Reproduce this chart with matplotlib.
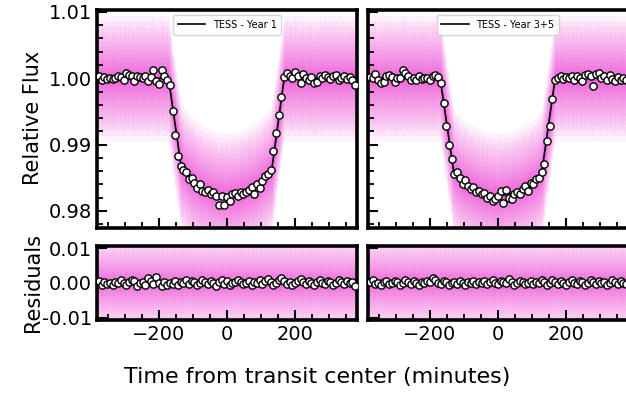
import numpy as np
import matplotlib
matplotlib.use("Agg")
import matplotlib.pyplot as plt
from matplotlib.ticker import MultipleLocator, FormatStrFormatter

# bin centres (minutes from mid-transit)
bin_time = np.arange(-376, 377, 8)

# binned flux, TESS Year 1
flux_y1 = [
    1.0003, 0.9998, 1.0002, 0.9999, 1.0001, 0.9999, 1.0000, 1.0004, 1.0002, 0.9998,
    1.0008, 1.0005, 1.0003, 0.9996, 1.0004, 1.0002, 1.0000, 1.0003, 0.9996, 1.0002,
    1.0012, 0.9996, 0.9992, 1.0012, 1.0003, 0.9997, 0.9990, 0.9950, 0.9915, 0.9882,
    0.9868, 0.9862, 0.9858, 0.9848, 0.9850, 0.9842, 0.9835, 0.9840, 0.9830, 0.9828,
    0.9832, 0.9826, 0.9829, 0.9822, 0.9808, 0.9822, 0.9808, 0.9821, 0.9815, 0.9826,
    0.9827, 0.9823, 0.9828, 0.9825, 0.9829, 0.9832, 0.9836, 0.9826, 0.9840, 0.9835,
    0.9845, 0.9852, 0.9855, 0.9862, 0.9890, 0.9918, 0.9945, 0.9972, 1.0002, 1.0008,
    1.0004, 1.0001, 1.0010, 1.0003, 0.9993, 1.0006, 1.0000, 0.9998, 1.0002, 0.9993,
    0.9994, 1.0003, 1.0001, 1.0005, 1.0002, 0.9999, 1.0004, 1.0005, 0.9998, 1.0001,
    1.0003, 0.9999, 1.0002, 0.9997, 0.9990,
]

# binned flux, TESS Year 3+5
flux_y35 = [
    1.0002, 1.0000, 1.0006, 0.9998, 0.9993, 0.9995, 1.0003, 1.0005, 1.0002, 0.9995,
    1.0001, 1.0000, 1.0013, 1.0008, 1.0003, 0.9998, 1.0001, 0.9997, 1.0004, 0.9999,
    1.0001, 1.0000, 0.9997, 1.0004, 1.0005, 1.0002, 0.9993, 0.9962, 0.9928, 0.9900,
    0.9878, 0.9855, 0.9858, 0.9850, 0.9841, 0.9846, 0.9838, 0.9833, 0.9836, 0.9828,
    0.9830, 0.9825, 0.9827, 0.9820, 0.9822, 0.9815, 0.9818, 0.9822, 0.9830, 0.9812,
    0.9831, 0.9820, 0.9818, 0.9825, 0.9828, 0.9826, 0.9833, 0.9838, 0.9830, 0.9842,
    0.9840, 0.9848, 0.9850, 0.9858, 0.9870, 0.9905, 0.9928, 0.9968, 0.9998, 1.0001,
    1.0003, 0.9999, 1.0002, 1.0000, 1.0004, 0.9998, 1.0003, 1.0001, 0.9996, 1.0005,
    1.0007, 1.0003, 0.9988, 1.0006, 1.0008, 1.0001, 1.0004, 0.9997, 1.0005, 0.9999,
    0.9996, 1.0002, 0.9998, 1.0000, 0.9997,
]

# residuals in units of 1e-4
resid_y1 = [
    5, -5, 3, -3, 0, -5, 3, 0, 8, 0,
    -5, 3, 10, 5, -8, 0, 3, -5, 14, 5,
    -3, 16, 0, -8, 3, -5, 0, -3, 5, -5,
    3, 0, 8, -3, 5, 3, -5, 0, 10, 3,
    -3, 5, 0, -8, 3, 8, -3, 5, -5, 0,
    3, 10, 3, -3, 0, 5, -5, 3, 0, 8,
    -3, 5, 12, 3, -5, 0, 8, 15, 5, -3,
    3, -5, 0, 5, 12, 3, -3, 5, 0, -5,
    3, 8, 0, -3, 5, 3, -5, 0, 8, 3,
    -3, 5, 0, 3, -10,
]
resid_y35 = [
    3, 8, -3, 0, -5, 3, 5, -3, 0, 5,
    3, -5, 0, 8, 3, -3, 5, 0, -5, 3,
    0, 5, 3, 14, 8, 0, -3, 5, 3, -5,
    0, 3, -3, 5, 0, -5, 3, 0, 5, -3,
    3, 0, 5, -3, 3, 8, 0, -3, 5, 3,
    0, 12, 3, -5, 0, 5, 3, -3, 0, 5,
    -3, 3, 0, 8, 3, -5, 0, 10, 3, -3,
    5, 0, -5, 3, 8, 0, -3, 5, 3, -5,
    0, 10, 3, -3, 5, 0, 3, -5, 0, 8,
    3, -3, 5, 0, -3,
]

# transit model
model_t_y1 = [-400, -172, -135, -115, -80, -40, 0, 40, 80, 115, 132, 168, 400]
model_f_y1 = [1.0, 1.0, 0.9868, 0.9852, 0.9836, 0.9826, 0.9822, 0.9826, 0.9836, 0.9852, 0.9864, 1.0, 1.0]
model_t_y35 = [-400, -170, -130, -110, -80, -40, 0, 40, 80, 110, 128, 168, 400]
model_f_y35 = [1.0, 1.0, 0.9858, 0.9845, 0.9835, 0.9826, 0.9822, 0.9826, 0.9835, 0.9845, 0.9856, 1.0, 1.0]

labels = ["TESS - Year 1", "TESS - Year 3+5"]

cloud_color = "#ec10cc"
# half-widths of the stacked shading that mimics the raw-data cloud
cloud_top = 0.0095 * np.linspace(0.08, 1, 18) ** 1.7
cloud_res = 0.0135 * np.linspace(0.08, 1, 18) ** 1.7

fig = plt.figure(figsize=(6.26, 3.95), dpi=100)
W, H = 626.0, 395.0
lefts = [97, 368]
panels = []
for i in range(2):
    a_top = fig.add_axes([lefts[i] / W, 1 - 228 / H, 260 / W, 218 / H])
    a_bot = fig.add_axes([lefts[i] / W, 1 - 320 / H, 260 / W, 74 / H])
    panels.append((a_top, a_bot))

datasets = [
    (flux_y1, resid_y1, model_t_y1, model_f_y1),
    (flux_y35, resid_y35, model_t_y35, model_f_y35),
]

for i, (ax, axr) in enumerate(panels):
    flux, resid, mt, mf = datasets[i]
    mt = np.array(mt)
    mf = np.array(mf)
    res = np.array(resid) * 1e-4

    # scatter cloud of unbinned data
    for s in cloud_top:
        ax.fill_between(mt, mf - s, mf + s, color=cloud_color, alpha=0.055, lw=0)
    ax.vlines(bin_time, np.array(flux) - 0.008, np.array(flux) + 0.008,
              color=cloud_color, alpha=0.05, lw=1.2)
    for s in cloud_res:
        axr.axhspan(-s, s, color=cloud_color, alpha=0.05, lw=0)
    axr.vlines(bin_time, res - 0.012, res + 0.012, color=cloud_color, alpha=0.05, lw=1.2)

    ax.plot(mt, mf, color="black", lw=1.2, label=labels[i], zorder=3)
    ax.plot(bin_time, flux, "o", ms=5.2, mfc="white", mec="black", mew=1.0, zorder=4)
    axr.plot(bin_time, res, "o", ms=5.2, mfc="white", mec="black", mew=1.0, zorder=4)

    ax.set_xlim(-382, 382)
    axr.set_xlim(-382, 382)
    ax.set_ylim(0.9774, 1.0103)
    axr.set_ylim(-0.0106, 0.0106)

    ax.legend(loc="upper center", fontsize=7, frameon=True, handlelength=2.8,
              borderpad=0.5, edgecolor="#cccccc")

    for a in (ax, axr):
        for sp in a.spines.values():
            sp.set_linewidth(2.6)
        a.xaxis.set_major_locator(MultipleLocator(200))
        a.xaxis.set_minor_locator(MultipleLocator(50))
        a.tick_params(which="major", direction="in", length=7, width=1.5, labelsize=14,
                      top=False, right=False)
        a.tick_params(which="minor", direction="in", length=4, width=1.3,
                      top=False, right=False)
    ax.yaxis.set_major_locator(MultipleLocator(0.01))
    ax.yaxis.set_minor_locator(MultipleLocator(0.002))
    ax.yaxis.set_major_formatter(FormatStrFormatter("%.2f"))
    axr.yaxis.set_major_locator(MultipleLocator(0.01))
    axr.yaxis.set_major_formatter(FormatStrFormatter("%.2f"))
    ax.tick_params(labelbottom=False)
    if i == 1:
        ax.tick_params(labelleft=False)
        axr.tick_params(labelleft=False)

fig.text(33 / W, 1 - 118 / H, "Relative Flux", rotation=90, ha="center", va="center", fontsize=15)
fig.text(33 / W, 1 - 283 / H, "Residuals", rotation=90, ha="center", va="center", fontsize=15)
fig.text(317 / W, 1 - 377 / H, "Time from transit center (minutes)", ha="center", va="center", fontsize=16)

fig.savefig("out.png", dpi=100)
